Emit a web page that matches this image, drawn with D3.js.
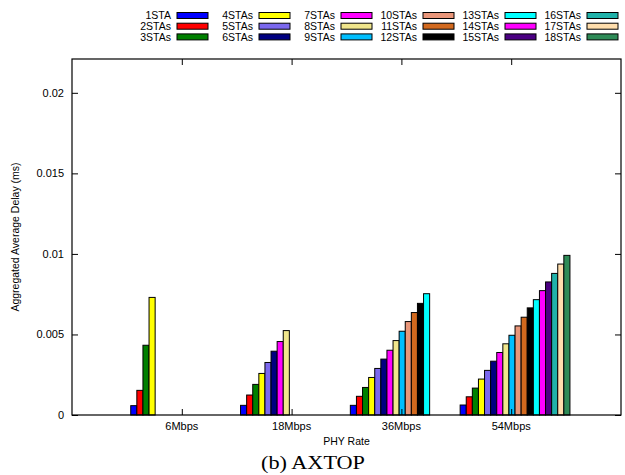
<!DOCTYPE html>
<html>
<head>
<meta charset="utf-8">
<script src="https://cdn.jsdelivr.net/npm/d3@7/dist/d3.min.js"></script>
<style>
  html, body { margin: 0; padding: 0; background: #fff; }
  svg { display: block; }
  text { font-family: "Liberation Sans", Arial, sans-serif; fill: #000; }
</style>
</head>
<body>
<svg id="chart" width="625" height="475"></svg>
<script>
// ---- data ----
const rates = ["6Mbps", "18Mbps", "36Mbps", "54Mbps"];
const seriesNames = ["1STA", "2STAs", "3STAs", "4STAs", "5STAs", "6STAs", "7STAs", "8STAs", "9STAs",
  "10STAs", "11STAs", "12STAs", "13STAs", "14STAs", "15STAs", "16STAs", "17STAs", "18STAs"];
const seriesColors = ["#0000ff", "#ff0000", "#008000", "#ffff00", "#7b68ee", "#000080", "#ff00ff", "#f0e68c", "#00bfff",
  "#e9967a", "#d2691e", "#000000", "#00ffff", "#ff00ff", "#4b0082", "#20b2aa", "#ffdead", "#2e8b57"];
const delay6Mbps = [0.00058, 0.00153, 0.00433, 0.0073];
const delay18Mbps = [0.0006, 0.00124, 0.0019, 0.00258, 0.00326, 0.00396, 0.00456, 0.00524];
const delay36Mbps = [0.0006, 0.00116, 0.00171, 0.00233, 0.00289, 0.00347, 0.00402, 0.00462, 0.0052,
  0.0058, 0.00636, 0.00693, 0.00753];
const delay54Mbps = [0.00062, 0.00113, 0.00167, 0.00223, 0.00277, 0.00334, 0.00388, 0.00442, 0.00495,
  0.00553, 0.00607, 0.00665, 0.00716, 0.00772, 0.00826, 0.00879, 0.00937, 0.00991];
const yTicks = [0, 0.005, 0.01, 0.015, 0.02];
const yTickLabels = ["0", "0.005", "0.01", "0.015", "0.02"];
const yTitle = "Aggregated Average Delay (ms)";
const xTitle = "PHY Rate";
const caption = "(b) AXTOP";

const groups = [delay6Mbps, delay18Mbps, delay36Mbps, delay54Mbps];

// ---- layout ----
const svg = d3.select("#chart");
const L = 72, R = 621, T = 59, B = 415;
const x = d3.scaleLinear().domain([0, 5]).range([L, R]);
const y = d3.scaleLinear().domain([0, 0.0221]).range([B, T]);
const nSeries = seriesNames.length;
const barUnit = 1 / nSeries;
const clusterStart = -0.465;
const barW = x(barUnit) - x(0);

// bars
const barData = [];
groups.forEach((vals, gi) => {
  vals.forEach((v, si) => barData.push({ g: gi, s: si, v: v }));
});
svg.append("g").selectAll("rect").data(barData).enter().append("rect")
  .attr("x", d => x(d.g + 1 + clusterStart + d.s * barUnit))
  .attr("y", d => y(d.v))
  .attr("width", barW)
  .attr("height", d => y(0) - y(d.v))
  .attr("fill", d => seriesColors[d.s])
  .attr("stroke", "#000")
  .attr("stroke-width", 1);

// frame
svg.append("rect").attr("x", L).attr("y", T).attr("width", R - L).attr("height", B - T)
  .attr("fill", "none").attr("stroke", "#000").attr("stroke-width", 1.2);

// y axis ticks (inward, mirrored)
const tl = 6;
const yAxisL = d3.axisRight(y).tickValues(yTicks).tickSize(tl).tickFormat("");
const gyL = svg.append("g").attr("transform", `translate(${L},0)`).call(yAxisL);
gyL.select(".domain").remove();
const yAxisR = d3.axisLeft(y).tickValues(yTicks).tickSize(tl).tickFormat("");
const gyR = svg.append("g").attr("transform", `translate(${R},0)`).call(yAxisR);
gyR.select(".domain").remove();
svg.append("g").selectAll("text").data(yTicks).enter().append("text")
  .attr("x", L - 8).attr("y", d => y(d)).attr("dy", "0.35em")
  .attr("text-anchor", "end").style("font-size", "11px")
  .text((d, i) => yTickLabels[i]);

// x axis ticks (inward, mirrored)
const xTickVals = rates.map((r, i) => i + 1);
const xAxisB = d3.axisTop(x).tickValues(xTickVals).tickSize(tl).tickFormat("");
const gxB = svg.append("g").attr("transform", `translate(0,${B})`).call(xAxisB);
gxB.select(".domain").remove();
const xAxisT = d3.axisBottom(x).tickValues(xTickVals).tickSize(tl).tickFormat("");
const gxT = svg.append("g").attr("transform", `translate(0,${T})`).call(xAxisT);
gxT.select(".domain").remove();
svg.selectAll(".tick line").attr("stroke", "#000").attr("stroke-width", 1);
svg.append("g").selectAll("text").data(rates).enter().append("text")
  .attr("x", (d, i) => x(i + 1)).attr("y", B + 15)
  .attr("text-anchor", "middle").style("font-size", "11px")
  .text(d => d);

// axis titles
svg.append("text").attr("x", (L + R) / 2).attr("y", 445)
  .attr("text-anchor", "middle").style("font-size", "10.5px").text(xTitle);
svg.append("text").attr("transform", `translate(19,${(T + B) / 2}) rotate(-90)`)
  .attr("text-anchor", "middle").style("font-size", "10.5px").text(yTitle);

// caption
svg.append("text").attr("x", 313).attr("y", 469).attr("text-anchor", "middle")
  .style("font-family", "'Liberation Serif', 'DejaVu Serif', serif").style("font-size", "19px")
  .attr("textLength", 104).attr("lengthAdjust", "spacingAndGlyphs")
  .text(caption);

// legend (3 rows x 6 columns, column-major)
const legRows = 3;
const leg = svg.append("g");
seriesNames.forEach((name, i) => {
  const col = Math.floor(i / legRows), row = i % legRows;
  const sx = 177 + col * 82;
  const cy = 15.5 + row * 10.7;
  leg.append("text").attr("x", sx - 6).attr("y", cy).attr("dy", "0.35em")
    .attr("text-anchor", "end").style("font-size", "10.5px").text(name);
  leg.append("rect").attr("x", sx).attr("y", cy - 3).attr("width", 31).attr("height", 6)
    .attr("fill", seriesColors[i]).attr("stroke", "#000").attr("stroke-width", 1);
});
</script>
</body>
</html>
